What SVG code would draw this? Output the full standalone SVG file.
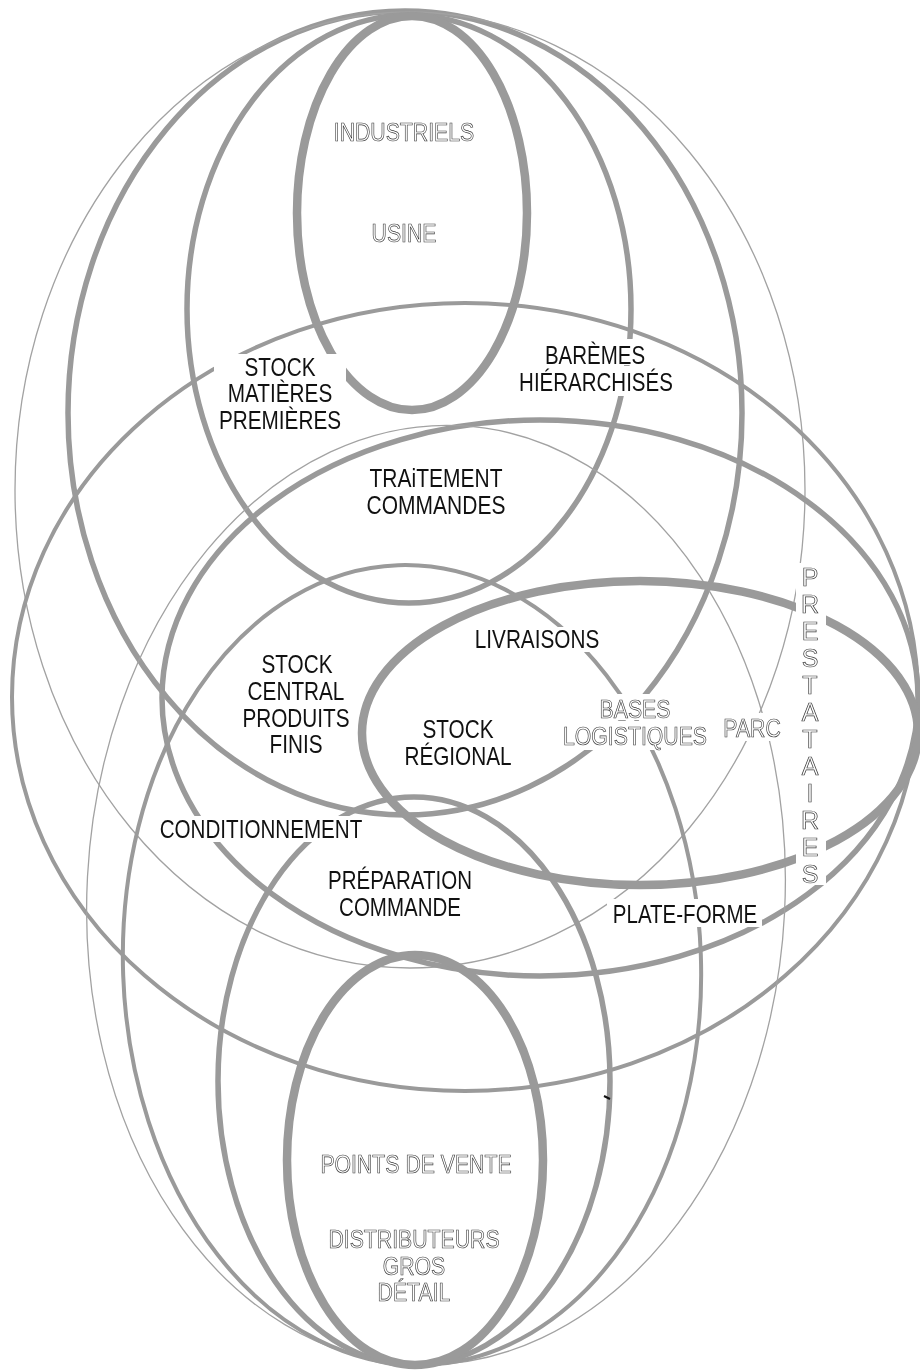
<svg xmlns="http://www.w3.org/2000/svg" width="920" height="1371" viewBox="0 0 920 1371">
<style>
.e{fill:none;stroke:#9a9a9a}
.k{stroke-width:8.5}
.m{stroke-width:5.5}
.n{stroke-width:4}
.t{stroke-width:1.3;stroke:#a2a2a2}
.lb{font-family:"Liberation Sans",Arial,sans-serif;font-size:25px;text-anchor:middle;fill:#111}
.ol{font-family:"Liberation Sans",Arial,sans-serif;font-size:25px;text-anchor:middle;fill:#fff;stroke:#3a3a3a;stroke-width:0.7}
.ko{fill:#fff}
.txt{opacity:0.999}
</style>
<rect width="920" height="1371" fill="#fff"/>
<g id="connectors">
  <ellipse id="m2" class="e m" cx="405" cy="413" rx="337" ry="402"/>
  <ellipse id="t4" class="e t" cx="410" cy="490" rx="395" ry="478"/>
  <ellipse id="m1" class="e m" cx="409" cy="309" rx="222" ry="294"/>
  <ellipse id="p1" class="e n" cx="465" cy="697" rx="453" ry="394"/>
  <ellipse id="et" class="e m" cx="540" cy="698" rx="378" ry="278"/>
  <ellipse id="eb2" class="e t" cx="436" cy="895" rx="349" ry="470" transform="rotate(3 436 895)"/>
  <ellipse id="eb1" class="e n" cx="412" cy="965" rx="289" ry="400" transform="rotate(-2 412 965)"/>
  <ellipse id="eprep" class="e m" cx="414" cy="1081" rx="196" ry="284"/>
  <line x1="604" y1="1096" x2="610" y2="1099" stroke="#111" stroke-width="2"/>
</g>
<g id="industriels">
  <ellipse class="e k" cx="412" cy="213" rx="115" ry="197"/>
</g>
<g id="points-de-vente">
  <ellipse class="e k" cx="415" cy="1160" rx="128" ry="205"/>
</g>
<g id="prestataires">
  <ellipse class="e k" cx="640" cy="733" rx="278" ry="152"/>
</g>
<g id="knockouts">
  <rect class="ko" x="796" y="563" width="30" height="322"/>
  <rect class="ko" x="594" y="694" width="82" height="26"/>
  <rect class="ko" x="559" y="721" width="152" height="29"/>
  <rect class="ko" x="719" y="713" width="66" height="28"/>
  <rect class="ko" x="541" y="339" width="108" height="26"/>
  <rect class="ko" x="516" y="366" width="160" height="30"/>
  <rect class="ko" x="471" y="627" width="133" height="25"/>
  <rect class="ko" x="153" y="816" width="217" height="26"/>
  <rect class="ko" x="607" y="899" width="155" height="28"/>
  <rect class="ko" x="214" y="354" width="132" height="80"/>
  <rect class="ko" x="323" y="866" width="155" height="54"/>
</g>
<g id="labels" class="txt">
  <g id="industriels-label">
    <text class="ol" transform="translate(404,141) scale(0.85,1)">INDUSTRIELS</text>
    <text class="ol" transform="translate(404,242) scale(0.85,1)">USINE</text>
  </g>
  <g id="points-de-vente-label">
    <text class="ol" transform="translate(416,1173) scale(0.85,1)">POINTS DE VENTE</text>
    <text class="ol" transform="translate(414,1248) scale(0.85,1)">DISTRIBUTEURS</text>
    <text class="ol" transform="translate(414,1275) scale(0.85,1)">GROS</text>
    <text class="ol" transform="translate(414,1301) scale(0.85,1)">DÉTAIL</text>
  </g>
  <g id="stock-matieres">
    <text class="lb" transform="translate(280,376) scale(0.83,1)">STOCK</text>
    <text class="lb" transform="translate(280,402) scale(0.83,1)">MATIÈRES</text>
    <text class="lb" transform="translate(280,429) scale(0.83,1)">PREMIÈRES</text>
  </g>
  <g id="baremes">
    <text class="lb" transform="translate(595,364) scale(0.82,1)">BARÈMES</text>
    <text class="lb" transform="translate(596,391) scale(0.82,1)">HIÉRARCHISÉS</text>
  </g>
  <g id="traitement">
    <text class="lb" transform="translate(436,487) scale(0.84,1)">TRAiTEMENT</text>
    <text class="lb" transform="translate(436,514) scale(0.84,1)">COMMANDES</text>
  </g>
  <g id="livraisons">
    <text class="lb" transform="translate(537,648) scale(0.83,1)">LIVRAISONS</text>
  </g>
  <g id="stock-central">
    <text class="lb" transform="translate(297,673) scale(0.83,1)">STOCK</text>
    <text class="lb" transform="translate(296,700) scale(0.83,1)">CENTRAL</text>
    <text class="lb" transform="translate(296,727) scale(0.83,1)">PRODUITS</text>
    <text class="lb" transform="translate(296,753) scale(0.83,1)">FINIS</text>
  </g>
  <g id="stock-regional">
    <text class="lb" transform="translate(458,738) scale(0.83,1)">STOCK</text>
    <text class="lb" transform="translate(458,765) scale(0.83,1)">RÉGIONAL</text>
  </g>
  <g id="bases">
    <text class="ol" transform="translate(635,718) scale(0.85,1)">BASES</text>
    <text class="ol" transform="translate(635,745) scale(0.85,1)">LOGISTIQUES</text>
  </g>
  <g id="parc">
    <text class="ol" transform="translate(752,737) scale(0.85,1)">PARC</text>
  </g>
  <g id="prestataires-label">
    <text class="ol"><tspan x="810" y="586">P</tspan><tspan x="810" y="613">R</tspan><tspan x="810" y="640">E</tspan><tspan x="810" y="667">S</tspan><tspan x="810" y="694">T</tspan><tspan x="810" y="721">A</tspan><tspan x="810" y="748">T</tspan><tspan x="810" y="775">A</tspan><tspan x="810" y="802">I</tspan><tspan x="810" y="829">R</tspan><tspan x="810" y="856">E</tspan><tspan x="810" y="883">S</tspan></text>
  </g>
  <g id="conditionnement">
    <text class="lb" transform="translate(261,838) scale(0.825,1)">CONDITIONNEMENT</text>
  </g>
  <g id="preparation">
    <text class="lb" transform="translate(400,889) scale(0.82,1)">PRÉPARATION</text>
    <text class="lb" transform="translate(400,916) scale(0.82,1)">COMMANDE</text>
  </g>
  <g id="plate-forme">
    <text class="lb" transform="translate(685,923) scale(0.82,1)">PLATE-FORME</text>
  </g>
</g>
</svg>
